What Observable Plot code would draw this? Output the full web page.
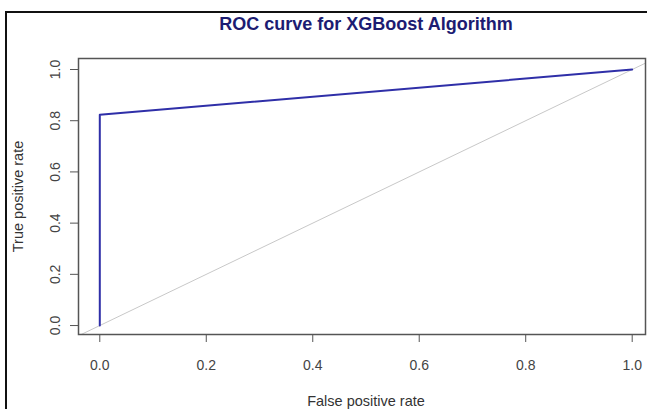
<!DOCTYPE html>
<html>
<head>
<meta charset="utf-8">
<script src="https://cdn.jsdelivr.net/npm/d3@7"></script>
<script src="https://cdn.jsdelivr.net/npm/@observablehq/plot@0.6"></script>
<style>
  html, body { margin: 0; padding: 0; background: #fff; overflow: hidden; }
  #wrap { position: relative; width: 647px; height: 409px; }
  #border { position: absolute; left: 5px; top: 11px; width: 700px; height: 500px;
            border-left: 2px solid #111; border-top: 2px solid #111; pointer-events: none; }
</style>
</head>
<body>
<div id="wrap"><div id="border"></div></div>
<script>
// ROC curve data (false positive rate, true positive rate)
const fpr = [0, 0, 1];
const tpr = [0, 0.823, 1];
const xTicks = [0, 0.2, 0.4, 0.6, 0.8, 1.0];
const yTicks = [0, 0.2, 0.4, 0.6, 0.8, 1.0];
const xDomain = [-0.04, 1.025];
const yDomain = [-0.035, 1.043];
const title = "ROC curve for XGBoost Algorithm";
const xLabel = "False positive rate";
const yLabel = "True positive rate";

const roc = fpr.map((x, i) => ({x, y: tpr[i]}));
// chance line y = x spanning the plot region
const diag = [xDomain[0] - 0.1, xDomain[1] + 0.1].map(v => ({x: v, y: v}));

const font = "'Liberation Sans', Arial, Helvetica, sans-serif";

const chart = Plot.plot({
  width: 647,
  height: 409,
  marginLeft: 78,
  marginRight: 2,
  marginTop: 58,
  marginBottom: 75,
  style: {fontFamily: font, background: "transparent"},
  x: {domain: xDomain, axis: null},
  y: {domain: yDomain, axis: null},
  marks: [
    Plot.line(diag, {x: "x", y: "y", stroke: "#c8c8c8", strokeWidth: 1, clip: true}),
    Plot.line(roc, {x: "x", y: "y", stroke: "#2f2fa8", strokeWidth: 2}),
    Plot.frame({stroke: "#555", strokeWidth: 1.5}),
    Plot.axisX({ticks: xTicks, tickSize: 8, tickFormat: () => "", label: null, stroke: "#555"}),
    Plot.axisY({ticks: yTicks, tickSize: 8, tickFormat: () => "", label: null, stroke: "#555"}),
    Plot.text(xTicks, {x: d => d, text: d => d.toFixed(1), frameAnchor: "bottom", dy: 31,
      fontSize: 14, fill: "#444", lineAnchor: "middle"}),
    Plot.text(yTicks, {y: d => d, text: d => d.toFixed(1), frameAnchor: "left", dx: -23,
      rotate: -90, textAnchor: "middle", lineAnchor: "middle", fontSize: 14, fill: "#444"}),
    Plot.text([xLabel], {text: d => d, frameAnchor: "bottom", dy: 67, dx: 4,
      fontSize: 14.5, fill: "#333", lineAnchor: "middle"}),
    Plot.text([yLabel], {text: d => d, frameAnchor: "left", dx: -60, rotate: -90,
      fontSize: 14.5, fill: "#333", lineAnchor: "middle", textAnchor: "middle"}),
    Plot.text([title], {text: d => d, frameAnchor: "top", dy: -34.5, dx: 4,
      fontSize: 18, fontWeight: "bold", fill: "#1c1c72", lineAnchor: "middle"})
  ]
});
chart.style.position = "absolute";
chart.style.left = "0px";
chart.style.top = "0px";
document.getElementById("wrap").prepend(chart);
</script>
</body>
</html>
